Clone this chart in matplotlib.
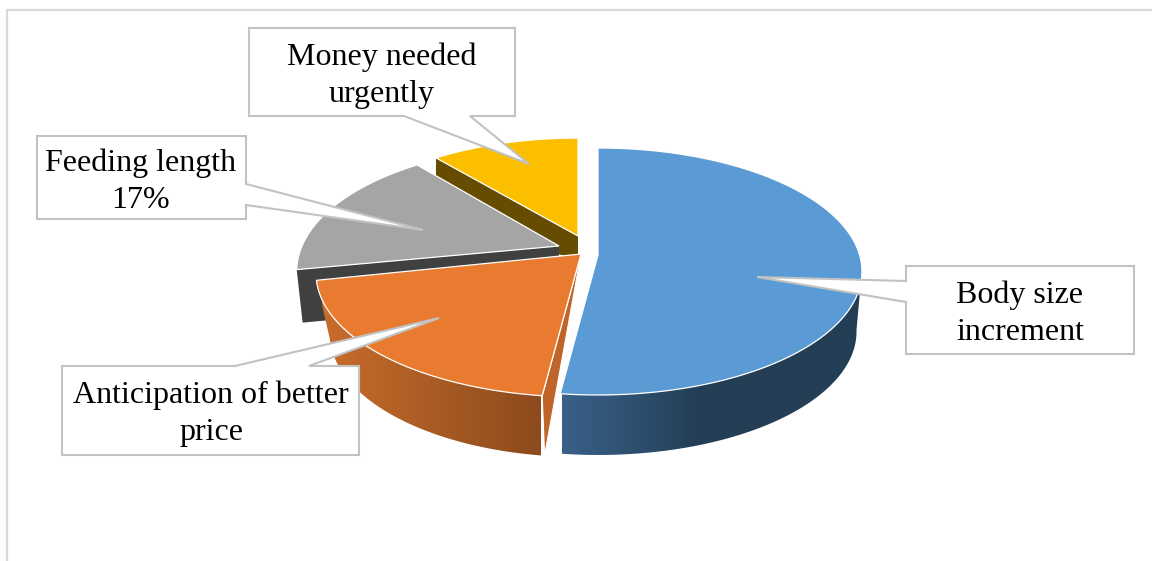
"""Reasons for selling, shown as an exploded 3D style pie."""

import numpy as np
import matplotlib
matplotlib.use('Agg')
import matplotlib.pyplot as plt
from matplotlib.colors import LinearSegmentedColormap
from matplotlib.patches import Polygon

# chart data
categories = ['Body size\nincrement', 'Anticipation of better\nprice',
              'Feeding length', 'Money needed\nurgently']
shares = [52, 20, 17, 11]
show_share = [False, False, True, False]

plt.rcParams['font.family'] = ['Liberation Serif', 'DejaVu Serif']

BORDER = '#D9D9D9'
CALLOUT_EDGE = '#C2C2C2'

# per slice drawing setup: exploded centre, radii, perspective, wall look
slice_style = [
    dict(cx=598, cy=255, tip=(598, 255), rx=261.6, ry=121.3, k=0.1335, top='#5B9BD5', depth=60,
         wall_scale=0.98, cut='#3A618A', grad=('#3A618A', '#233E55', '#233E55'),
         grad_x=(562, 700, 862), wall_from=97),
    dict(cx=580, cy=257, tip=(581, 254), rx=261.6, ry=121.3, k=0.1335, top='#E97B30', depth=60,
         wall_scale=0.95, cut='#C0652A', grad=('#C96C2C', '#AA5C24', '#8D4A1C'),
         grad_x=(322, 430, 541), wall_from=None),
    dict(cx=559, cy=246, tip=(559, 246), rx=257, ry=121.4, k=0.2, top='#A5A5A5', depth=53,
         wall_scale=0.98, cut='#404040', grad=None, grad_x=None, wall_from=None),
    dict(cx=578, cy=236, tip=(578, 236), rx=252, ry=114.6, k=0.17, top='#FBBF00', depth=60,
         wall_scale=1.0, cut='#664C00', grad=None, grad_x=None, wall_from=None),
]

# box left, top, right, bottom, pointer base a, pointer base b, tip, text centre
callouts = [
    dict(box=(906, 266, 1134, 354), base=[(906, 302), (906, 281)], tip=(757, 277), text=(1020, 314)),
    dict(box=(62, 366, 359, 455), base=[(309, 366), (235, 366)], tip=(439, 318), text=(211, 414)),
    dict(box=(37, 136, 246, 219), base=[(246, 184), (246, 205)], tip=(423, 230), text=(141, 182)),
    dict(box=(249, 28, 515, 116), base=[(470, 116), (404, 116)], tip=(529, 164), text=(382, 76)),
]

VANISH_X = 590


def rim(style, deg, lower=False):
    """Screen position of the slice rim at the given clockwise angles."""
    t = np.radians(deg)
    u, v = np.sin(t), np.cos(t)
    w = 1 + style['k'] * v
    x = style['cx'] + style['rx'] * u / w
    y = style['cy'] - style['ry'] * v / w
    if lower:
        x = VANISH_X + (x - VANISH_X) * style['wall_scale']
        y = y + style['depth']
    return np.column_stack([x, y])


def apex(style, drop=0):
    return np.array([[style['tip'][0], style['tip'][1] + drop]], dtype=float)


def gradient_wall(ax, pts, style, zorder):
    """Outer wall filled with a left to right shade."""
    clip = Polygon(pts, closed=True, fc='none', ec='none', transform=ax.transData)
    ax.add_patch(clip)
    x0, x1 = style['grad_x'][0], style['grad_x'][-1]
    stops = [(x - x0) / (x1 - x0) for x in style['grad_x']]
    cmap = LinearSegmentedColormap.from_list('wall', list(zip(stops, style['grad'])))
    img = ax.imshow(np.linspace(0, 1, 256).reshape(1, -1), cmap=cmap, aspect='auto',
                    extent=(x0, x1, 561, 0), zorder=zorder, interpolation='bilinear')
    img.set_clip_path(clip)


fig = plt.figure(figsize=(11.52, 5.61), dpi=100, facecolor='white')
ax = fig.add_axes([0, 0, 1, 1])
ax.axis('off')

# frame of the chart area, open to the right and at the bottom
ax.plot([7, 7, 1152], [561, 10, 10], color=BORDER, lw=1.6, solid_joinstyle='miter', zorder=1)

# slice angles come straight from the shares
edges = np.cumsum([0] + shares) / sum(shares) * 360
order = {0: 8, 1: 10, 2: 6, 3: 4}

for i, style in enumerate(slice_style):
    start, end = edges[i], edges[i + 1]
    z = order[i]
    arc = np.linspace(start, end, 160)

    # cut faces and outer walls
    if i == 0:
        wall_arc = np.linspace(style['wall_from'], end, 160)
        wall = np.vstack([rim(style, wall_arc), rim(style, wall_arc[::-1], lower=True)])
        gradient_wall(ax, wall, style, z)
    elif i == 1:
        wall = np.vstack([rim(style, arc), rim(style, arc[::-1], lower=True)])
        gradient_wall(ax, wall, style, z)
        front = np.vstack([apex(style), rim(style, [start]), rim(style, [start], lower=True)])
        ax.add_patch(Polygon(front, closed=True, fc=style['cut'], ec='white', lw=0.8, zorder=z + 0.2))
    elif i == 2:
        side = np.vstack([apex(style), rim(style, [start]), rim(style, [start], lower=True),
                          apex(style, drop=style['depth'])])
        ax.add_patch(Polygon(side, closed=True, fc=style['cut'], ec='none', zorder=z))
    else:
        # the inner corner stays short so the cut ends behind the orange slice
        side = np.vstack([apex(style), rim(style, [start]), rim(style, [start], lower=True),
                          apex(style, drop=24)])
        ax.add_patch(Polygon(side, closed=True, fc=style['cut'], ec='none', zorder=z))

    # top face
    top = np.vstack([apex(style), rim(style, arc)])
    ax.add_patch(Polygon(top, closed=True, fc=style['top'], ec='white', lw=0.9,
                         joinstyle='miter', zorder=z + 0.5))

# callouts pointing into the slices
for i, c in enumerate(callouts):
    x0, y0, x1, y1 = c['box']
    a, b = c['base']
    if i == 0:
        outline = [(x0, y0), (x1, y0), (x1, y1), (x0, y1), a, c['tip'], b]
    elif i == 1:
        outline = [(x0, y0), b, c['tip'], a, (x1, y0), (x1, y1), (x0, y1)]
    elif i == 2:
        outline = [(x0, y0), (x1, y0), a, c['tip'], b, (x1, y1), (x0, y1)]
    else:
        outline = [(x0, y0), (x1, y0), (x1, y1), a, c['tip'], b, (x0, y1)]
    ax.add_patch(Polygon(outline, closed=True, fc='white', ec=CALLOUT_EDGE, lw=1.5,
                         joinstyle='miter', zorder=20))
    label = categories[i]
    if show_share[i]:
        label = f'{label}\n{shares[i]}%'
    ax.text(c['text'][0], c['text'][1], label, ha='center', va='center', fontsize=23,
            color='black', linespacing=1.36, zorder=21)

ax.set_xlim(0, 1152)
ax.set_ylim(561, 0)

plt.savefig('out.png', dpi=100)
plt.close()
